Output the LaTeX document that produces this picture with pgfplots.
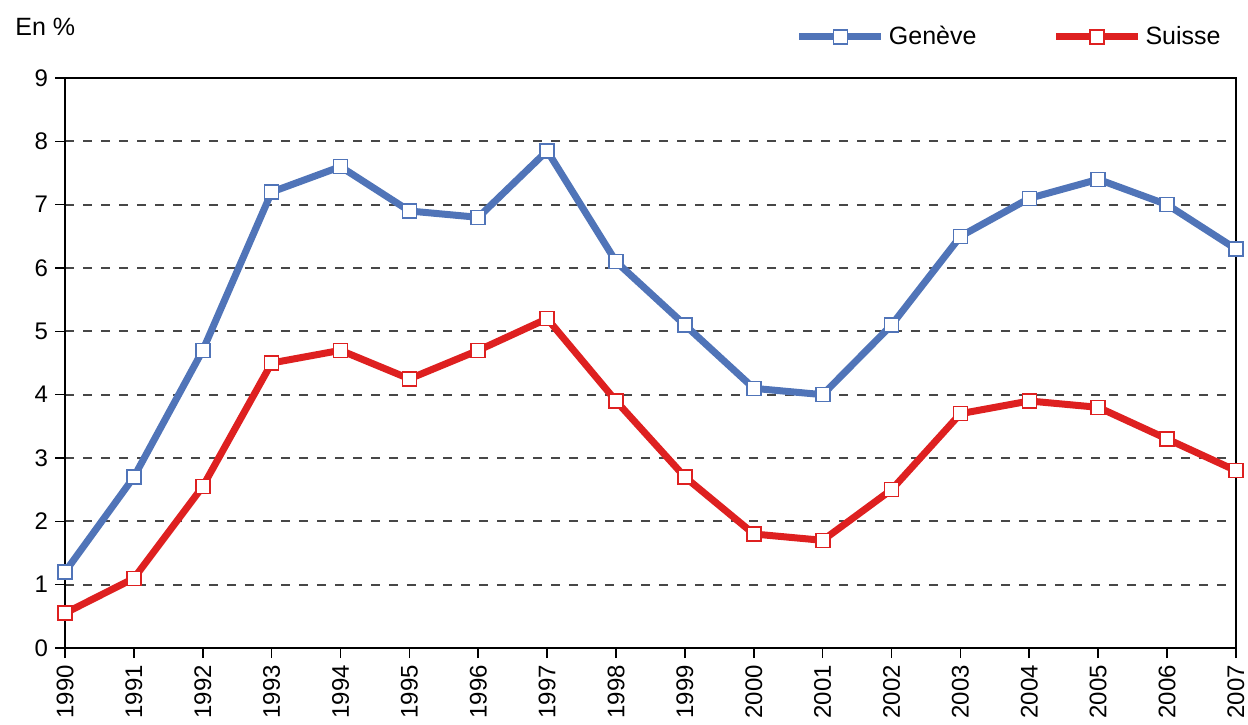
\documentclass[border=0pt]{standalone}
\usepackage{pgfplots}
\pgfplotsset{compat=1.18}
\usepackage{fontspec}
\setmainfont{Liberation Sans}
\definecolor{gblue}{RGB}{80,116,184}
\definecolor{sred}{RGB}{222,32,32}
\begin{document}
\begin{tikzpicture}
\useasboundingbox (-32.5pt,-38pt) rectangle (591.5pt,324pt);
\begin{axis}[
  at={(0,0)}, anchor=south west,
  scale only axis, width=585.5pt, height=285pt,
  xmin=1990, xmax=2007, ymin=0, ymax=9,
  xtick={1990,...,2007}, ytick={0,...,9},
  xticklabel style={rotate=90, anchor=east, /pgf/number format/1000 sep={}},
  /pgf/number format/assume math mode=true,
  /pgf/number format/1000 sep={},
  tick label style={font=\fontsize{12}{14}\selectfont},
  xtick pos=bottom, ytick pos=left,
  tick align=outside, major tick length=5pt,
  tick style={black, line width=0.8pt},
  axis line style={black, line width=0.8pt},
  ymajorgrids,
  major grid style={black!72, line width=1.1pt, dash pattern=on 4.5pt off 4.5pt},
  legend columns=2,
  legend style={draw=none, fill=none, at={(rel axis cs:0.9906,1.072)}, anchor=east,
    font=\fontsize{12.5}{14}\selectfont, /tikz/every even column/.append style={column sep=36pt},
    inner sep=0pt, cells={anchor=west, inner xsep=1pt}},
  legend image code/.code={\draw[mark repeat=2,mark phase=2,#1] plot coordinates {(0pt,0pt) (20.5pt,0pt) (41pt,0pt)};},
  clip=false,
]
\addplot[gblue, line width=3.5pt, mark=square*, mark size=3.5pt,
  mark options={fill=white, draw=gblue, line width=0.8pt}]
  coordinates {(1990,1.2) (1991,2.7) (1992,4.7) (1993,7.2) (1994,7.6) (1995,6.9) (1996,6.8) (1997,7.85) (1998,6.1) (1999,5.1) (2000,4.1) (2001,4.0) (2002,5.1) (2003,6.5) (2004,7.1) (2005,7.4) (2006,7.0) (2007,6.3)};
\addlegendentry{Genève}
\addplot[sred, line width=3.5pt, mark=square*, mark size=3.5pt,
  mark options={fill=white, draw=sred, line width=0.8pt}]
  coordinates {(1990,0.55) (1991,1.1) (1992,2.55) (1993,4.5) (1994,4.7) (1995,4.25) (1996,4.7) (1997,5.2) (1998,3.9) (1999,2.7) (2000,1.8) (2001,1.7) (2002,2.5) (2003,3.7) (2004,3.9) (2005,3.8) (2006,3.3) (2007,2.8)};
\addlegendentry{Suisse}
\end{axis}
\node[anchor=west, font=\fontsize{12.5}{14}\selectfont, inner sep=0pt] at (-25pt,310.5pt) {En \%};
\end{tikzpicture}
\end{document}
